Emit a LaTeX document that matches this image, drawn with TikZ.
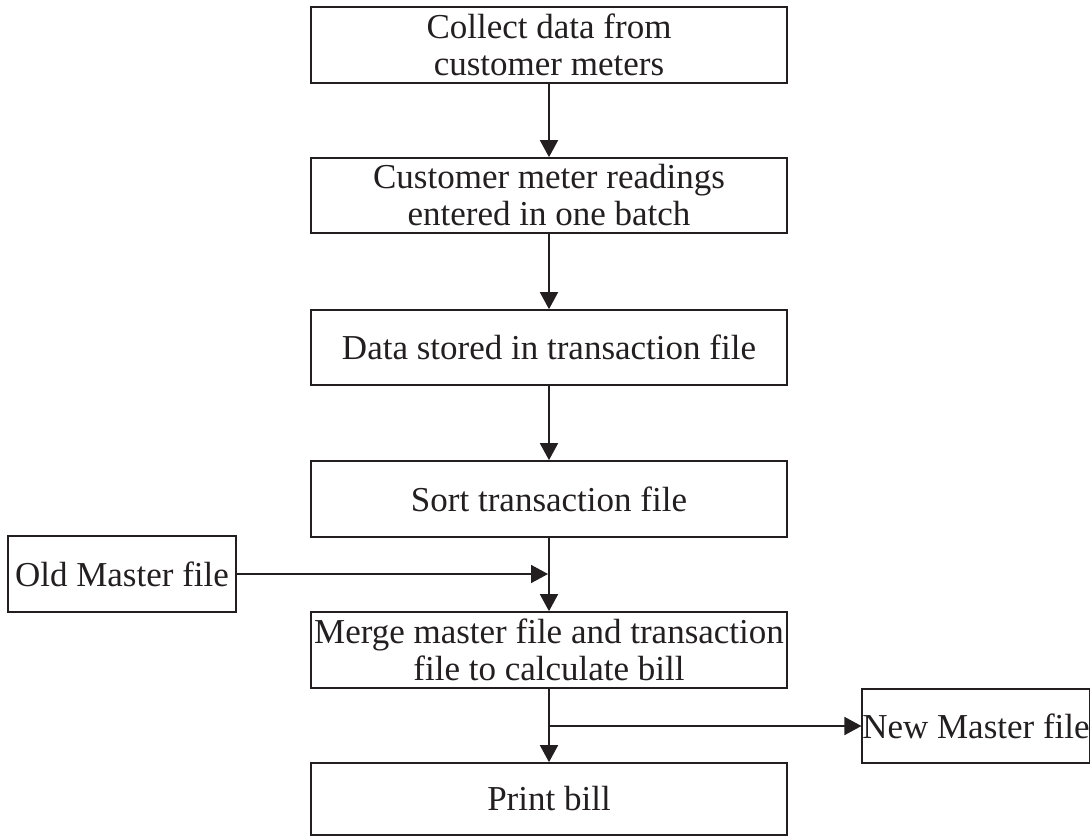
\documentclass[tikz,border=0pt]{standalone}
\usepackage{fontspec}
\setmainfont{Liberation Serif}
\usetikzlibrary{arrows.meta}
\definecolor{ink}{HTML}{231F20}
\begin{document}
\begin{tikzpicture}[x=1pt,y=-1pt,
  box/.style={draw=ink, line width=1.7pt, rectangle, inner sep=0pt, align=center,
    text=ink, font=\fontsize{35}{37}\selectfont},
  mainbox/.style={box, minimum width=476pt},
  conn/.style={draw=ink, line width=1.7pt, -{Triangle[length=17pt,width=18pt]}}]
\useasboundingbox (0,0) rectangle (1090,836);
\node[mainbox, minimum height=76pt] (b1) at (549,45) {Collect data from\\customer meters};
\node[mainbox, minimum height=75pt] (b2) at (549,195.5) {Customer meter readings\\entered in one batch};
\node[mainbox, minimum height=75pt] (b3) at (549,347.5) {Data stored in transaction file};
\node[mainbox, minimum height=76pt] (b4) at (549,499) {Sort transaction file};
\node[mainbox, minimum height=76pt] (b5) at (549,650) {Merge master file and transaction\\file to calculate bill};
\node[mainbox, minimum height=72pt] (b6) at (549,799) {Print bill};
\node[box, minimum width=228pt, minimum height=76pt] (old) at (122,574) {Old Master file};
\node[box, minimum width=226pt, minimum height=74pt] (new) at (976,726) {New Master file};
\coordinate (j1) at (548,574);
\coordinate (j2) at (549,726);
\draw[conn] (b1) -- (b2);
\draw[conn] (b2) -- (b3);
\draw[conn] (b3) -- (b4);
\draw[conn] (b4) -- (b5);
\draw[conn] (old) -- (j1);
\draw[conn] (b5) -- (b6);
\draw[conn] (j2) -- (new);
\end{tikzpicture}
\end{document}
